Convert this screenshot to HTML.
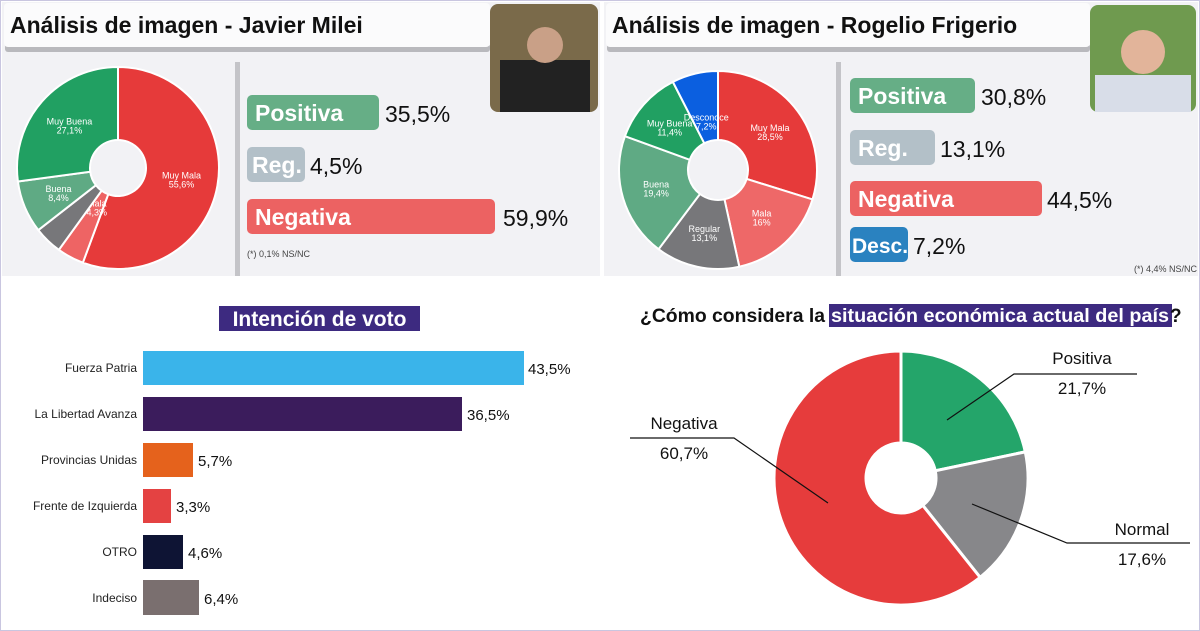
<!DOCTYPE html>
<html><head><meta charset="utf-8"><style>
body{margin:0;width:1200px;height:631px;overflow:hidden;background:#fff;font-family:"Liberation Sans",sans-serif}
svg{display:block}
</style></head><body>
<svg id="s" width="1200" height="631" xmlns="http://www.w3.org/2000/svg" font-family="Liberation Sans, sans-serif">
<rect x="0.5" y="0.5" width="1199" height="630" fill="#fff" stroke="#c9c6e0"/>
<rect x="2" y="2" width="598" height="274" fill="#f2f2f5"/>
<rect x="604" y="2" width="594" height="274" fill="#f2f2f5"/>
<rect x="5" y="44" width="485" height="8" rx="3" fill="#b9b9bd"/>
<rect x="4" y="3" width="486" height="44" rx="4" fill="#fbfbfc"/>
<rect x="607" y="44" width="483" height="8" rx="3" fill="#b9b9bd"/>
<rect x="606" y="3" width="484" height="44" rx="4" fill="#fbfbfc"/>
<text x="10" y="33" font-size="23" font-weight="bold" fill="#111">Análisis de imagen - Javier Milei</text>
<text x="612" y="33" font-size="23" font-weight="bold" fill="#111">Análisis de imagen - Rogelio Frigerio</text>
<rect x="490" y="4" width="108" height="108" rx="8" fill="#7a6a4a"/>
<rect x="500" y="60" width="90" height="52" fill="#222"/>
<circle cx="545" cy="45" r="18" fill="#c9a087"/>
<rect x="1090" y="5" width="106" height="107" rx="8" fill="#6f9a4f"/>
<rect x="1095" y="75" width="96" height="37" fill="#d8dde8"/>
<circle cx="1143" cy="52" r="22" fill="#e2b49a"/>
<rect x="235" y="62" width="5" height="214" fill="#c4c4c8"/>
<rect x="836" y="62" width="5" height="214" fill="#c4c4c8"/>
<rect x="247" y="95" width="132" height="35" rx="5" fill="#66ae86"/>
<text x="255" y="121" font-size="23" font-weight="bold" fill="#fff">Positiva</text>
<text x="385" y="122" font-size="23" fill="#111">35,5%</text>
<rect x="247" y="147" width="58" height="35" rx="5" fill="#b3c0c8"/>
<text x="252" y="173" font-size="23" font-weight="bold" fill="#fff">Reg.</text>
<text x="310" y="174" font-size="23" fill="#111">4,5%</text>
<rect x="247" y="199" width="248" height="35" rx="5" fill="#ec6262"/>
<text x="255" y="225" font-size="23" font-weight="bold" fill="#fff">Negativa</text>
<text x="503" y="226" font-size="23" fill="#111">59,9%</text>
<text x="247" y="257" font-size="9" fill="#444">(*) 0,1% NS/NC</text>
<rect x="850" y="78" width="125" height="35" rx="5" fill="#66ae86"/>
<text x="858" y="104" font-size="23" font-weight="bold" fill="#fff">Positiva</text>
<text x="981" y="105" font-size="23" fill="#111">30,8%</text>
<rect x="850" y="130" width="85" height="35" rx="5" fill="#b3c0c8"/>
<text x="858" y="156" font-size="23" font-weight="bold" fill="#fff">Reg.</text>
<text x="940" y="157" font-size="23" fill="#111">13,1%</text>
<rect x="850" y="181" width="192" height="35" rx="5" fill="#ec6262"/>
<text x="858" y="207" font-size="23" font-weight="bold" fill="#fff">Negativa</text>
<text x="1047" y="208" font-size="23" fill="#111">44,5%</text>
<rect x="850" y="227" width="58" height="35" rx="5" fill="#2a82c0"/>
<text x="852" y="253" font-size="21" font-weight="bold" fill="#fff">Desc.</text>
<text x="913" y="254" font-size="23" fill="#111">7,2%</text>
<text x="1197" y="272" font-size="9" fill="#444" text-anchor="end">(*) 4,4% NS/NC</text>
<g id="pies"></g>
<rect x="219" y="306" width="201" height="25" fill="#3d2a80"/>
<text x="319.5" y="326" font-size="21" font-weight="bold" fill="#fff" text-anchor="middle">Intención de voto</text>
<g font-size="12" fill="#222" text-anchor="end">
<text x="137" y="372">Fuerza Patria</text>
<text x="137" y="418">La Libertad Avanza</text>
<text x="137" y="464">Provincias Unidas</text>
<text x="137" y="510">Frente de Izquierda</text>
<text x="137" y="556">OTRO</text>
<text x="137" y="602">Indeciso</text>
</g>
<rect x="143" y="351" width="381" height="34" fill="#3ab4ea"/>
<rect x="143" y="397" width="319" height="34" fill="#3b1c5c"/>
<rect x="143" y="443" width="50" height="34" fill="#e5621c"/>
<rect x="143" y="489" width="28" height="34" fill="#e44242"/>
<rect x="143" y="535" width="40" height="34" fill="#0e1434"/>
<rect x="143" y="580" width="56" height="35" fill="#7a6f6f"/>
<g font-size="15" fill="#111">
<text x="528" y="374">43,5%</text>
<text x="467" y="420">36,5%</text>
<text x="198" y="466">5,7%</text>
<text x="176" y="512">3,3%</text>
<text x="188" y="558">4,6%</text>
<text x="204" y="604">6,4%</text>
</g>
<rect x="829" y="304" width="343" height="23" fill="#3d2a80"/>
<g font-size="19" font-weight="bold">
<text x="640" y="322" fill="#111" textLength="185" lengthAdjust="spacingAndGlyphs">¿Cómo considera la</text>
<text x="831" y="322" fill="#fff" textLength="338" lengthAdjust="spacingAndGlyphs">situación económica actual del país</text>
<text x="1170" y="322" fill="#111">?</text>
</g>
<g stroke="#111" stroke-width="1.2" fill="none">
<polyline points="1137,374 1014,374 947,420"/>
<polyline points="630,438 734,438 828,503"/>
<polyline points="1190,543 1067,543 972,504"/>
</g>
<g font-size="17" fill="#111" text-anchor="middle">
<text x="1082" y="364">Positiva</text><text x="1082" y="394">21,7%</text>
<text x="684" y="429">Negativa</text><text x="684" y="459">60,7%</text>
<text x="1142" y="535">Normal</text><text x="1142" y="565">17,6%</text>
</g>
</svg>
<script>
function arc(cx,cy,R,r,a0,a1){
 const p=(a,rad)=>[cx+rad*Math.sin(a),cy-rad*Math.cos(a)];
 const l=(a1-a0)>Math.PI?1:0;
 const [x0,y0]=p(a0,R),[x1,y1]=p(a1,R),[x2,y2]=p(a1,r),[x3,y3]=p(a0,r);
 return `M${x0},${y0}A${R},${R} 0 ${l} 1 ${x1},${y1}L${x2},${y2}A${r},${r} 0 ${l} 0 ${x3},${y3}Z`;
}
function pie(cx,cy,R,r,data,lw){
 let tot=data.reduce((s,d)=>s+d[0],0),a=0,h='';
 for(const d of data){const b=a+d[0]/tot*2*Math.PI;
  h+=`<path d="${arc(cx,cy,R,r,a,b)}" fill="${d[1]}" stroke="#fff" stroke-width="${lw}"/>`;
  if(d[2]){const m=(a+b)/2,rr=d[3]||(R+r)/2;const x=cx+rr*Math.sin(m),y=cy-rr*Math.cos(m);
   h+=`<text x="${x}" y="${y-1}" font-size="9" fill="#fff" text-anchor="middle">${d[2]}</text><text x="${x}" y="${y+8}" font-size="9" fill="#fff" text-anchor="middle">${d[4]}</text>`;}
  a=b;}
 return h;
}
let h='';
h+=pie(118,168,101,28,[[55.6,'#e63a3a','Muy Mala',,'55,6%'],[4.3,'#ee6464','Mala',45,'4,3%'],[4.5,'#77777a'],[8.4,'#5faa84','Buena',,'8,4%'],[27.1,'#21a062','Muy Buena',,'27,1%']],2);
h+=pie(718,170,99,30,[[28.5,'#e63a3a','Muy Mala',,'28,5%'],[16,'#ee6868','Mala',,'16%'],[13.1,'#77777a','Regular',,'13,1%'],[19.4,'#5faa84','Buena',,'19,4%'],[11.4,'#21a062','Muy Buena',,'11,4%'],[7.2,'#0b5fe0','Desconoce',50,'7,2%']],2);
h+=pie(901,478,127,35,[[21.7,'#24a56a'],[17.6,'#87878a'],[60.7,'#e63c3c']],3);
document.getElementById('pies').innerHTML=h;
</script>
</body></html>
